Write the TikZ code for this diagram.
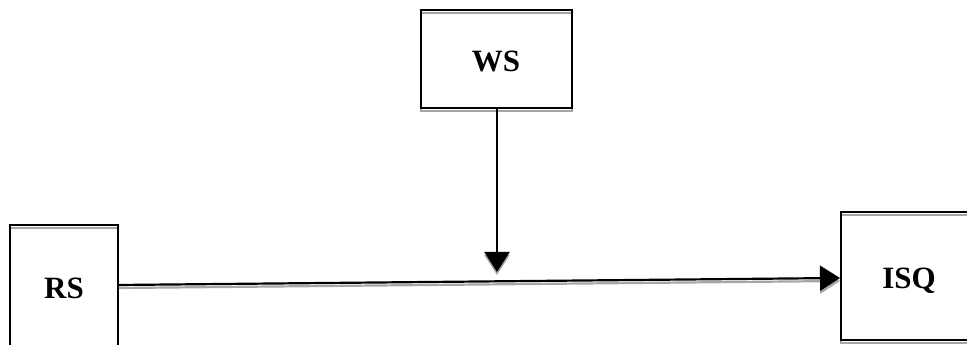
\documentclass[tikz,border=0pt]{standalone}
\usepackage{fontspec}
\setmainfont{Liberation Serif}
\usetikzlibrary{arrows.meta}
\begin{document}
\begin{tikzpicture}[x=1pt,y=1pt,
  box/.style={draw=black,line width=2pt,rectangle,inner sep=0pt},
  boxshade/.style={draw=black!35,line width=2pt,rectangle,inner sep=0pt},
  lbl/.style={font=\bfseries\fontsize{31}{34}\selectfont,inner sep=0pt},
  link/.style={line width=2.2pt,-{Triangle[width=25pt,length=20pt]}},
  linkshade/.style={line width=2.2pt,black!35,-{Triangle[width=25pt,length=20pt]}}]
\useasboundingbox (0,0) rectangle (967,345);
\clip (0,0) rectangle (967,345);
% grey double-line shading, drawn first and shifted down
\begin{scope}[yshift=-3pt]
  \node[boxshade,minimum width=151pt,minimum height=98pt] at (496.5,286) {};
  \node[boxshade,minimum width=108pt,minimum height=140pt] at (64,50) {};
  \node[boxshade,minimum width=150pt,minimum height=128pt] at (916,69) {};
\end{scope}
% boxes
\node[box,minimum width=151pt,minimum height=98pt] (ws) at (496.5,286) {};
\node[box,minimum width=108pt,minimum height=140pt] (rs) at (64,50) {};
\node[box,minimum width=150pt,minimum height=128pt] (isq) at (916,69) {};
% labels
\node[lbl] (wsl) at (496,284) {WS};
\node[lbl] (rsl) at (64,57) {RS};
\node[lbl] (isql) at (909,64) {ISQ};
% connectors
\coordinate (rsout) at (rs.east |- 0,60);
\coordinate (isqin) at (isq.west |- 0,67);
\coordinate (wsout) at (ws.south -| 497,0);
\coordinate (meet) at (497,73);
\draw[linkshade] ([yshift=-3pt]rsout) -- ([yshift=-3pt]isqin);
\draw[linkshade] ([yshift=-3pt]wsout) -- ([yshift=-3pt]meet);
\draw[link] (rsout) -- (isqin);
\draw[link] (wsout) -- (meet);
\end{tikzpicture}
\end{document}
